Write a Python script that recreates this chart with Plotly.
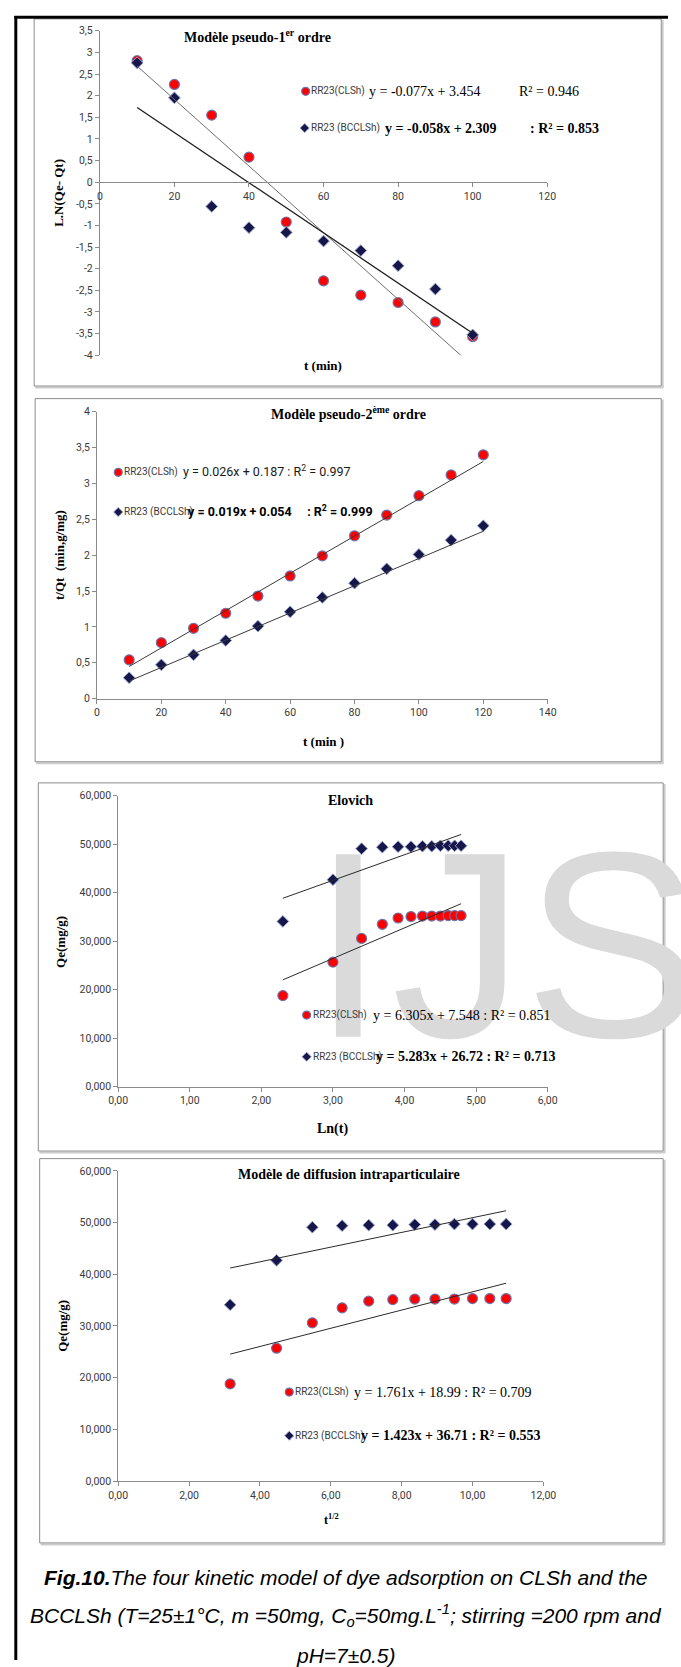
import plotly.graph_objects as go

W, H = 681, 1667

# ---------------- data ----------------
# pseudo-first order: ln(Qe - Qt) versus t
t_pfo = [10, 20, 30, 40, 50, 60, 70, 80, 90, 100]
pfo_clsh = [2.81, 2.26, 1.55, 0.58, -0.92, -2.28, -2.61, -2.78, -3.23, -3.57]
pfo_bcclsh = [2.76, 1.95, -0.56, -1.05, -1.16, -1.36, -1.58, -1.93, -2.47, -3.53]
pfo_fit_clsh = [-0.077, 3.454]
pfo_fit_bcclsh = [-0.058, 2.309]

# pseudo-second order: t/Qt versus t
t_pso = [10, 20, 30, 40, 50, 60, 70, 80, 90, 100, 110, 120]
pso_clsh = [0.54, 0.78, 0.98, 1.19, 1.43, 1.71, 1.99, 2.27, 2.56, 2.83, 3.12, 3.40]
pso_bcclsh = [0.29, 0.47, 0.61, 0.81, 1.01, 1.21, 1.41, 1.61, 1.81, 2.01, 2.21, 2.41]
pso_fit_clsh = [0.026, 0.187]
pso_fit_bcclsh = [0.019, 0.054]

# Elovich (Qt versus ln t) and intraparticle diffusion (Qt versus t^1/2)
ln_t = [2.30, 3.00, 3.40, 3.69, 3.91, 4.09, 4.25, 4.38, 4.50, 4.61, 4.70, 4.79]
sqrt_t = [3.16, 4.47, 5.48, 6.32, 7.07, 7.75, 8.37, 8.94, 9.49, 10.00, 10.49, 10.95]
qt_clsh = [18.8, 25.7, 30.6, 33.5, 34.8, 35.1, 35.2, 35.2, 35.2, 35.3, 35.3, 35.3]
qt_bcclsh = [34.1, 42.7, 49.1, 49.4, 49.5, 49.5, 49.6, 49.6, 49.7, 49.7, 49.7, 49.7]
elovich_fit_clsh = [6.305, 7.548]
elovich_fit_bcclsh = [5.283, 26.72]
ipd_fit_clsh = [1.761, 18.99]
ipd_fit_bcclsh = [1.423, 36.71]

# tick values and labels
p1_xticks = [0, 20, 40, 60, 80, 100, 120]
p1_xlabels = ["0", "20", "40", "60", "80", "100", "120"]
p1_yticks = [3.5, 3, 2.5, 2, 1.5, 1, 0.5, 0, -0.5, -1, -1.5, -2, -2.5, -3, -3.5, -4]
p1_ylabels = ["3,5", "3", "2,5", "2", "1,5", "1", "0,5", "0", "-0,5", "-1", "-1,5",
              "-2", "-2,5", "-3", "-3,5", "-4"]
p2_xticks = [0, 20, 40, 60, 80, 100, 120, 140]
p2_xlabels = ["0", "20", "40", "60", "80", "100", "120", "140"]
p2_yticks = [0, 0.5, 1, 1.5, 2, 2.5, 3, 3.5, 4]
p2_ylabels = ["0", "0,5", "1", "1,5", "2", "2,5", "3", "3,5", "4"]
p3_xticks = [0, 1, 2, 3, 4, 5, 6]
p3_xlabels = ["0,00", "1,00", "2,00", "3,00", "4,00", "5,00", "6,00"]
qe_yticks = [0, 10, 20, 30, 40, 50, 60]
qe_ylabels = ["0,000", "10,000", "20,000", "30,000", "40,000", "50,000", "60,000"]
p4_xticks = [0, 2, 4, 6, 8, 10, 12]
p4_xlabels = ["0,00", "2,00", "4,00", "6,00", "8,00", "10,00", "12,00"]

# ---------------- styling ----------------
SERIF = "Liberation Serif, Times New Roman, serif"
SANS = "Roboto, Arial, sans-serif"
ARIAL = "Liberation Sans, Arial, sans-serif"
AXC = "#8a8a8a"
TICKFONT = dict(family=SANS, size=10.5, color="#3a3a3a")
RED = dict(symbol="circle", size=10, color="#ff0000",
           line=dict(color="rgba(105,115,170,0.95)", width=1.2))
NAVY = dict(symbol="diamond", size=9, color="#16164a",
            line=dict(color="#93a0c8", width=1))
RED_KEY = dict(RED, size=8)
NAVY_KEY = dict(NAVY, size=7)
WM_FONT = dict(family=ARIAL, size=265, color="#dadada")


def px(x):
    return x / W


def py(y):
    return 1 - y / H


fig = go.Figure()

# page frame (pixel coordinates) for the watermark and legend keys
for wx, word in [(312, "I"), (395, "JS")]:
    fig.add_trace(go.Scatter(
        x=[wx], y=[972], mode="text", text=[word], textposition="middle right",
        textfont=WM_FONT, cliponaxis=False, hoverinfo="skip", showlegend=False,
        xaxis="x", yaxis="y"))

legend_keys = [
    (306, 86, RED_KEY), (305, 123, NAVY_KEY),
    (112, 470, RED_KEY), (112, 510, NAVY_KEY),
    (307, 1017, RED_KEY), (307, 1059, NAVY_KEY),
    (289, 1397, RED_KEY), (289, 1441, NAVY_KEY),
]
for kx, ky, mk in legend_keys:
    fig.add_trace(go.Scatter(x=[kx], y=[ky], mode="markers", marker=mk,
                             hoverinfo="skip", showlegend=False,
                             xaxis="x", yaxis="y"))


def fit_line(xs, coef):
    x0, x1 = min(xs), max(xs)
    return [x0, x1], [coef[0] * x0 + coef[1], coef[0] * x1 + coef[1]]


def add_panel(ax, xs, y_red, y_navy, fit_red, fit_navy, red_lc, navy_lc, navy_lw):
    xa, ya = "x" + ax, "y" + ax
    fig.add_trace(go.Scatter(x=xs, y=y_red, mode="markers", marker=RED,
                             showlegend=False, xaxis=xa, yaxis=ya, cliponaxis=False))
    fig.add_trace(go.Scatter(x=xs, y=y_navy, mode="markers", marker=NAVY,
                             showlegend=False, xaxis=xa, yaxis=ya, cliponaxis=False))
    lx, ly = fit_line(xs, fit_red)
    fig.add_trace(go.Scatter(x=lx, y=ly, mode="lines", line=dict(color=red_lc, width=1),
                             showlegend=False, xaxis=xa, yaxis=ya))
    lx, ly = fit_line(xs, fit_navy)
    fig.add_trace(go.Scatter(x=lx, y=ly, mode="lines",
                             line=dict(color=navy_lc, width=navy_lw),
                             showlegend=False, xaxis=xa, yaxis=ya))


add_panel("2", t_pfo, pfo_clsh, pfo_bcclsh, pfo_fit_clsh, pfo_fit_bcclsh,
          "#6e6e6e", "#1e1e1e", 1.3)
add_panel("3", t_pso, pso_clsh, pso_bcclsh, pso_fit_clsh, pso_fit_bcclsh,
          "#3a3a3a", "#3a3a3a", 1)
add_panel("4", ln_t, qt_clsh, qt_bcclsh, elovich_fit_clsh, elovich_fit_bcclsh,
          "#2a2a2a", "#2a2a2a", 1)
add_panel("5", sqrt_t, qt_clsh, qt_bcclsh, ipd_fit_clsh, ipd_fit_bcclsh,
          "#2a2a2a", "#2a2a2a", 1)


def axis(domain, rng, tv, tt, **kw):
    d = dict(domain=domain, range=rng, tickmode="array", tickvals=tv, ticktext=tt,
             showline=True, linecolor=AXC, linewidth=1, ticks="outside", ticklen=4,
             tickwidth=1, tickcolor=AXC, showgrid=False, zeroline=False,
             tickfont=TICKFONT, fixedrange=True)
    d.update(kw)
    return d


# panel 1 : x axis crosses at y = 0
p1_ydom = [py(352), py(25)]
p1_yr = [-4, 3.5]
p1_xpos = p1_ydom[0] + (0 - p1_yr[0]) / (p1_yr[1] - p1_yr[0]) * (p1_ydom[1] - p1_ydom[0])

layout_axes = dict(
    xaxis=dict(domain=[0, 1], range=[0, W], visible=False, fixedrange=True),
    yaxis=dict(domain=[0, 1], range=[H, 0], visible=False, fixedrange=True),
    xaxis2=axis([px(93), px(556)], [0, 120], p1_xticks, p1_xlabels,
                anchor="free", position=p1_xpos),
    yaxis2=axis(p1_ydom, p1_yr, p1_yticks, p1_ylabels, anchor="x2"),
    xaxis3=axis([px(90), px(556.5)], [0, 140], p2_xticks, p2_xlabels, anchor="y3"),
    yaxis3=axis([py(698), py(409)], [0, 4], p2_yticks, p2_ylabels, anchor="x3"),
    xaxis4=axis([px(112), px(556.5)], [0, 6], p3_xticks, p3_xlabels, anchor="y4"),
    yaxis4=axis([py(1089.3), py(796)], [0, 60], qe_yticks, qe_ylabels, anchor="x4"),
    xaxis5=axis([px(112), px(552)], [0, 12], p4_xticks, p4_xlabels, anchor="y5"),
    yaxis5=axis([py(1486.7), py(1174)], [0, 60], qe_yticks, qe_ylabels, anchor="x5"),
)

# ---------------- texts ----------------
NB = "\u00a0"


def T(x, y, s, font, xanchor="left", angle=0):
    return dict(x=x, y=y, xref="x", yref="y", text=s, showarrow=False, font=font,
                xanchor=xanchor, yanchor="middle", textangle=angle, borderpad=0,
                borderwidth=0)


title_f = dict(family=SERIF, size=14, color="#000000", weight="bold")
axis_f = dict(family=SERIF, size=13, color="#000000", weight="bold")
name_f = dict(family=SANS, size=10, color="#3a3a3a")
eq_f = dict(family=SERIF, size=14, color="#000000")
eqb_f = dict(family=SERIF, size=14, color="#000000", weight="bold")
eq2_f = dict(family=SANS, size=12.5, color="#1a1a1a")
eq2b_f = dict(family=SANS, size=12.5, color="#000000", weight="bold")
cap_f = dict(family=ARIAL, size=21, color="#000000", style="italic")

annotations = [
    # panel 1
    T(256, 30, "Modèle pseudo-1<sup>er</sup> ordre", title_f, "center"),
    T(324, 362, "t (min)", axis_f, "center"),
    T(50, 188, "L.N(Qe- Qt)", axis_f, "center", -90),
    T(312, 86, "RR23(CLSh)", name_f),
    T(372, 86, "y = -0.077x + 3.454", eq_f),
    T(527, 86, "R² = 0.946", eq_f),
    T(311, 123, "RR23 (BCCLSh)", name_f),
    T(388, 123, "y = -0.058x + 2.309", eqb_f),
    T(538, 123, ": R² = 0.853", eqb_f),
    # panel 2
    T(350, 410, "Modèle pseudo-2<sup>ème</sup> ordre", title_f, "center"),
    T(324, 741, "t (min )", axis_f, "center"),
    T(51, 553, "t/Qt" + NB + NB + "(min,g/mg)", axis_f, "center", -90),
    T(118, 470, "RR23(CLSh)", name_f),
    T(179, 469, "y = 0.026x + 0.187 : R<sup>2</sup> = 0.997", eq2_f),
    T(118, 510, "RR23 (BCCLSh)", name_f),
    T(184, 509, "y = 0.019x + 0.054" + NB * 5 + ": R<sup>2</sup> = 0.999", eq2b_f),
    # panel 3
    T(352, 801, "Elovich", title_f, "center"),
    T(334, 1132, "Ln(t)", dict(axis_f, size=14), "center"),
    T(52, 943, "Qe(mg/g)", axis_f, "center", -90),
    T(314, 1017, "RR23(CLSh)", name_f),
    T(376, 1017, "y = 6.305x + 7.548 : R² = 0.851", eq_f),
    T(314, 1059, "RR23 (BCCLSh)", name_f),
    T(379, 1059, "y = 5.283x + 26.72 : R² = 0.713", eqb_f),
    # panel 4
    T(351, 1178, "Modèle de diffusion intraparticulaire", title_f, "center"),
    T(333, 1525, "t<sup>1/2</sup>", dict(axis_f, size=12), "center"),
    T(54, 1330, "Qe(mg/g)", axis_f, "center", -90),
    T(295, 1397, "RR23(CLSh)", name_f),
    T(356, 1397, "y = 1.761x + 18.99 : R² = 0.709", eq_f),
    T(295, 1441, "RR23 (BCCLSh)", name_f),
    T(363, 1441, "y = 1.423x + 36.71 : R² = 0.553", eqb_f),
    # caption
    T(348, 1584, "<b>Fig.10.</b>The four kinetic model of dye adsorption on CLSh and the",
      cap_f, "center"),
    T(348, 1622, "BCCLSh (T=25±1°C, m =50mg, C<sub>o</sub>=50mg.L<sup>-1</sup>; "
      "stirring =200 rpm and", cap_f, "center"),
    T(348, 1662, "pH=7±0.5)", cap_f, "center"),
]

# ---------------- frames ----------------
shapes = []
boxes = [(25, 13, 674, 383), (26, 395.7, 674, 761.7),
         (29.3, 783, 676, 1154), (30.7, 1161.7, 676, 1549)]
for x0, y0, x1, y1 in boxes:
    shapes.append(dict(type="line", xref="x", yref="y", x0=x1 + 1.5, x1=x1 + 1.5,
                       y0=y0 + 1, y1=y1 + 2, line=dict(color="#cccccc", width=2),
                       layer="below"))
    shapes.append(dict(type="line", xref="x", yref="y", x0=x0 + 1, x1=x1 + 2,
                       y0=y1 + 1.5, y1=y1 + 1.5, line=dict(color="#cccccc", width=2),
                       layer="below"))
    shapes.append(dict(type="rect", xref="x", yref="y", x0=x0, y0=y0, x1=x1, y1=y1,
                       line=dict(color="#8c8c8c", width=1), fillcolor="rgba(0,0,0,0)",
                       layer="below"))
# black page border (top and left)
shapes.append(dict(type="line", xref="x", yref="y", x0=4.5, x1=W, y0=11.3, y1=11.3,
                   line=dict(color="#000000", width=3)))
shapes.append(dict(type="line", xref="x", yref="y", x0=6, x1=6, y0=10, y1=H,
                   line=dict(color="#000000", width=3)))

fig.update_layout(
    width=W, height=H, margin=dict(l=0, r=0, t=0, b=0),
    paper_bgcolor="#ffffff", plot_bgcolor="rgba(0,0,0,0)",
    showlegend=False, annotations=annotations, shapes=shapes, **layout_axes)

fig.write_html("out.html", post_script="document.body.style.margin='0px';")
